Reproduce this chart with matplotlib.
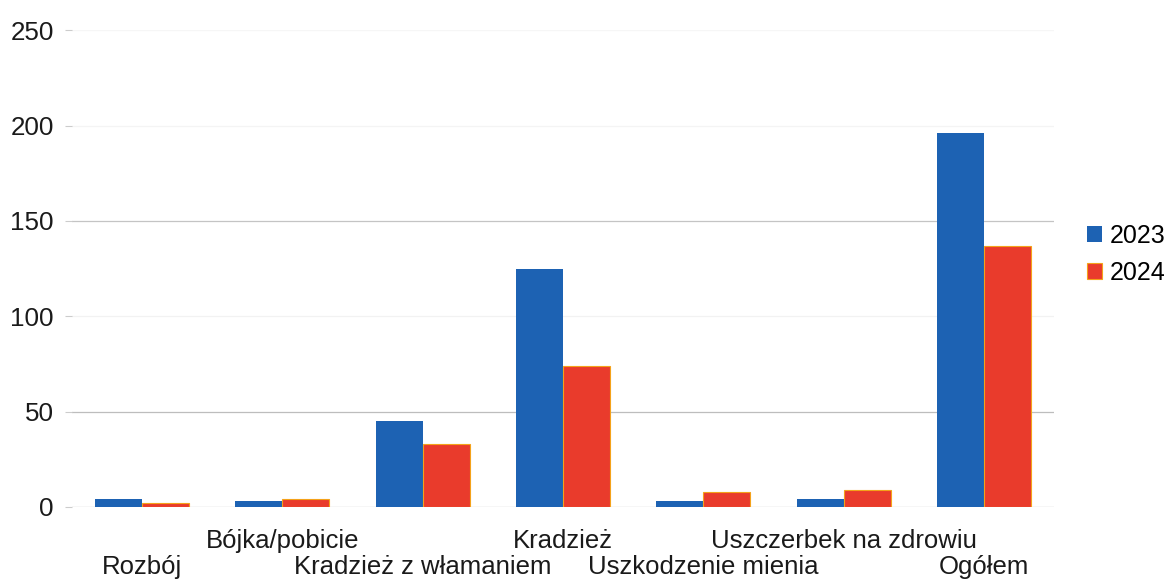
import numpy as np
import matplotlib.pyplot as plt

plt.rcParams['font.family'] = ['Liberation Sans', 'DejaVu Sans']

categories = ["Rozbój", "Bójka/pobicie", "Kradzież z włamaniem", "Kradzież",
              "Uszkodzenie mienia", "Uszczerbek na zdrowiu", "Ogółem"]
values_2023 = [4, 3, 45, 125, 3, 4, 196]
values_2024 = [2, 4, 33, 74, 8, 9, 137]
yticks = [0, 50, 100, 150, 200, 250]

fig = plt.figure(figsize=(11.69, 5.82), dpi=100)
ax = fig.add_axes([0.0616, 0.129, 0.84, 0.819])

x = np.arange(len(categories))
w = 0.335
ax.bar(x - w / 2, values_2023, w, color="#1d62b3", label="2023", zorder=3)
ax.bar(x + w / 2, values_2024, w, color="#e93b2c", edgecolor="#f4a21a",
       linewidth=0.8, label="2024", zorder=3)

# faint grid, as on the scanned original
grid_colors = ["#bdbdbd", "#bdbdbd", "#f2f2f2", "#c4c4c4", "#f4f4f4", "#f6f6f6"]
for t, c in zip(yticks, grid_colors):
    ax.axhline(t, color=c, linewidth=0.9, zorder=1)

ax.set_xlim(-0.5, len(categories) - 0.5)
ax.set_ylim(0, 250)
ax.set_yticks(yticks)
ax.set_xticks(x)
ax.set_xticklabels([])
ax.tick_params(axis="x", length=0)
ax.tick_params(axis="y", length=5, color="#cccccc", labelsize=18.7, pad=8,
               labelcolor="#1a1a1a")
for s in ax.spines.values():
    s.set_visible(False)

# staggered category labels: even ones on the lower row
for i, c in enumerate(categories):
    yrow = -0.126 if i % 2 == 0 else -0.072
    ax.text(i, yrow, c, transform=ax.get_xaxis_transform(), ha="center",
            va="center", fontsize=18.5, color="#1a1a1a")

ax.legend(loc="center left", bbox_to_anchor=(1.021, 0.53), frameon=False,
          fontsize=18, handlelength=0.6, handleheight=0.6, handletextpad=0.3,
          labelspacing=0.5, borderpad=0.2, borderaxespad=0.3)

fig.savefig("out.png", dpi=100)
